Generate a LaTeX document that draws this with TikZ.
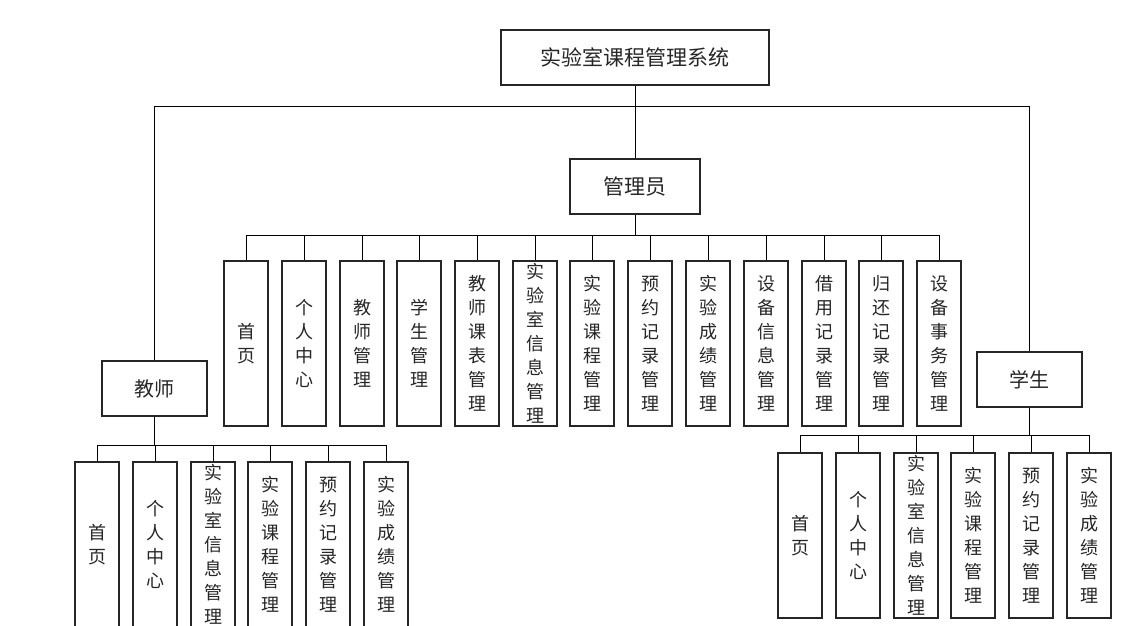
\documentclass[tikz,border=0pt]{standalone}
\usepackage{fontspec}
\newfontfamily\cjk{Noto Sans CJK SC}
\tikzset{
  x=1pt,y=-1pt,
  conn/.style={draw=black,line width=1pt},
  topbox/.style={draw=black!85,line width=1.2pt,fill=white,inner sep=0pt,text=black!85,font=\cjk\fontsize{21}{24}\selectfont},
  leafbox/.style={draw=black!85,line width=1.2pt,fill=white,inner sep=0pt,minimum width=44pt,minimum height=165pt},
  leaftext/.style={inner sep=0pt,align=center,text=black!85,font=\cjk\fontsize{18}{24}\selectfont},
}
\newcommand{\leaf}[4]{%
  \node[leafbox] (#1) at (#2,#3+82.5) {};
  \node[leaftext] (#1t) at (#1.center) {#4};
}
\begin{document}
\begin{tikzpicture}
\useasboundingbox (0,0) rectangle (1125,626);
% top level
\node[topbox,minimum width=268pt,minimum height=55pt] (root) at (635,57.5) {实验室课程管理系统};
\node[topbox,minimum width=130pt,minimum height=55pt] (admin) at (635,186.5) {管理员};
\node[topbox,minimum width=105pt,minimum height=55pt,font=\cjk\fontsize{20}{24}\selectfont] (teacher) at (154.5,388.5) {教师};
\node[topbox,minimum width=105pt,minimum height=55pt,font=\cjk\fontsize{20}{24}\selectfont] (student) at (1029.5,379.5) {学生};
\coordinate (rbus) at (635,106);
\draw[conn] (root.south) -- (admin.north);
\draw[conn] (rbus) -| (teacher.north);
\draw[conn] (rbus) -| (student.north);
% admin children
\leaf{a1}{246}{261}{首\\页}
\leaf{a2}{304}{261}{个\\人\\中\\心}
\leaf{a3}{362}{261}{教\\师\\管\\理}
\leaf{a4}{419}{261}{学\\生\\管\\理}
\leaf{a5}{477}{261}{教\\师\\课\\表\\管\\理}
\leaf{a6}{535}{261}{实\\验\\室\\信\\息\\管\\理}
\leaf{a7}{592}{261}{实\\验\\课\\程\\管\\理}
\leaf{a8}{650}{261}{预\\约\\记\\录\\管\\理}
\leaf{a9}{708}{261}{实\\验\\成\\绩\\管\\理}
\leaf{a10}{766}{261}{设\\备\\信\\息\\管\\理}
\leaf{a11}{824}{261}{借\\用\\记\\录\\管\\理}
\leaf{a12}{881}{261}{归\\还\\记\\录\\管\\理}
\leaf{a13}{939}{261}{设\\备\\事\\务\\管\\理}
\coordinate (abus) at (635,235);
\draw[conn] (admin.south) -- (abus);
\foreach \i in {1,...,13} {\draw[conn] (abus) -| (a\i.north);}
% teacher children
\leaf{t1}{97}{462}{首\\页}
\leaf{t2}{155}{462}{个\\人\\中\\心}
\leaf{t3}{213}{462}{实\\验\\室\\信\\息\\管\\理}
\leaf{t4}{270}{462}{实\\验\\课\\程\\管\\理}
\leaf{t5}{328}{462}{预\\约\\记\\录\\管\\理}
\leaf{t6}{386}{462}{实\\验\\成\\绩\\管\\理}
\coordinate (tbus) at (154.5,445);
\draw[conn] (teacher.south) -- (tbus);
\foreach \i in {1,...,6} {\draw[conn] (tbus) -| (t\i.north);}
% student children
\leaf{s1}{800}{453}{首\\页}
\leaf{s2}{858}{453}{个\\人\\中\\心}
\leaf{s3}{916}{453}{实\\验\\室\\信\\息\\管\\理}
\leaf{s4}{973}{453}{实\\验\\课\\程\\管\\理}
\leaf{s5}{1031}{453}{预\\约\\记\\录\\管\\理}
\leaf{s6}{1089}{453}{实\\验\\成\\绩\\管\\理}
\coordinate (sbus) at (1029.5,435);
\draw[conn] (student.south) -- (sbus);
\foreach \i in {1,...,6} {\draw[conn] (sbus) -| (s\i.north);}
\end{tikzpicture}
\end{document}
